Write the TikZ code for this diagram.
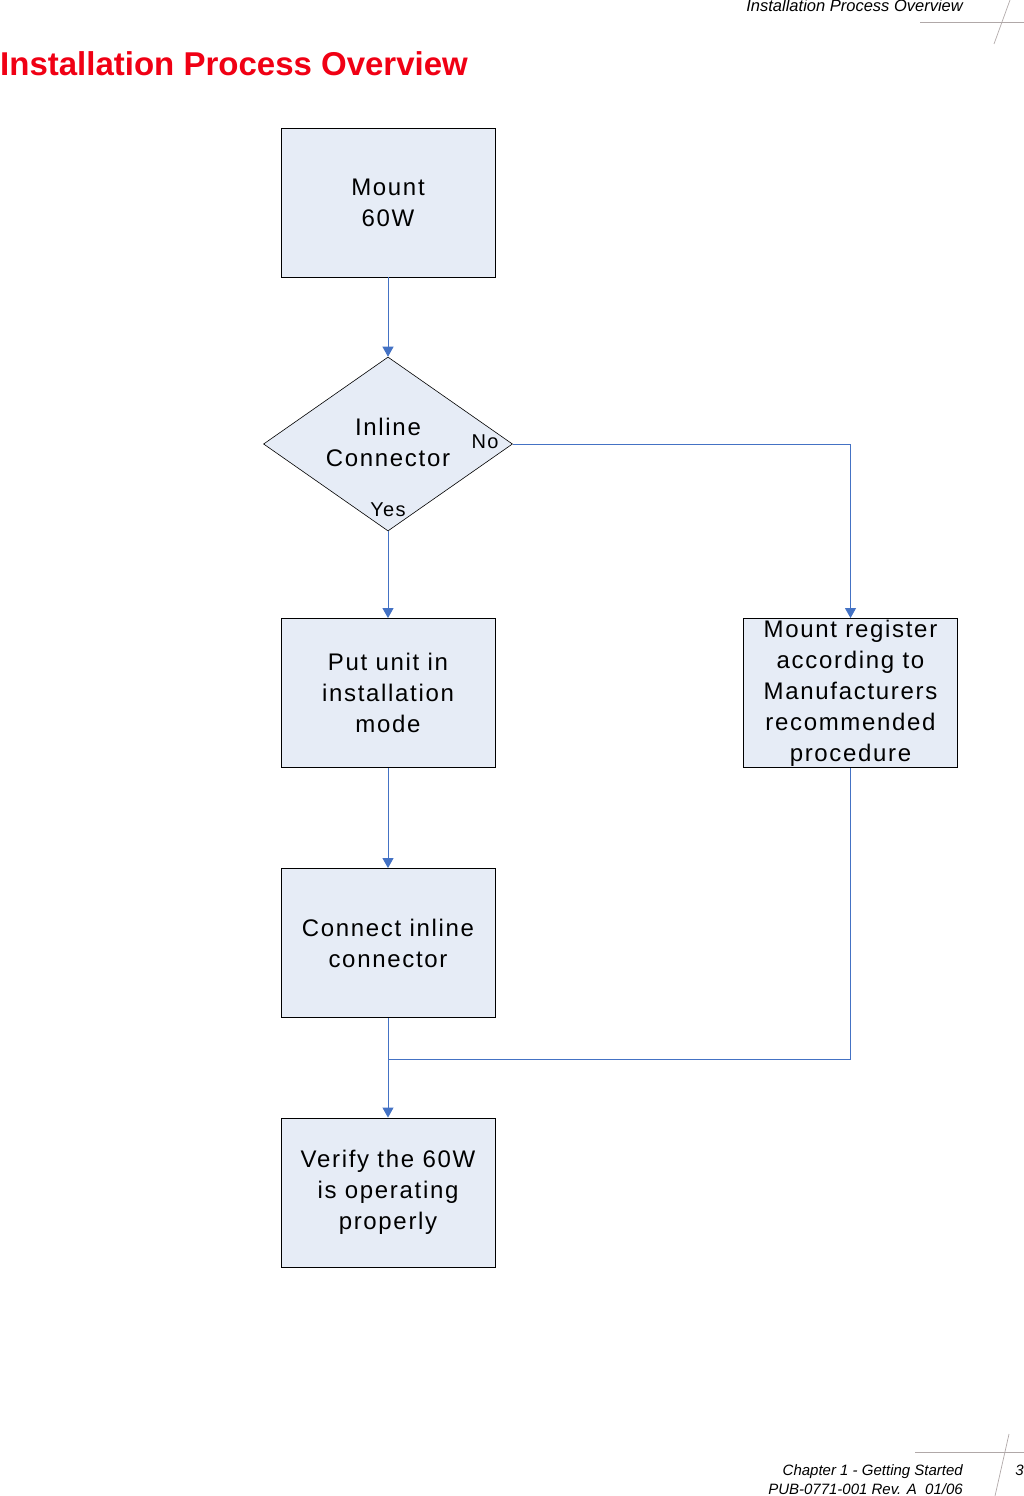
\documentclass[tikz,border=0pt]{standalone}
\usepackage{fontspec}
\setmainfont{Liberation Sans}
\usetikzlibrary{shapes.geometric,arrows.meta}
\definecolor{boxfill}{RGB}{230,236,246}
\definecolor{linkblue}{RGB}{68,114,196}
\definecolor{titlered}{RGB}{240,0,20}
\definecolor{rulegray}{RGB}{176,168,168}
\newfontfamily\boxfont[LetterSpace=7]{Liberation Sans}
\tikzset{
  stepbox/.style={draw=black,line width=0.9pt,fill=boxfill,minimum width=214pt,minimum height=149pt,inner sep=0pt,align=center,font=\boxfont\fontsize{24}{31}\selectfont},
  decision/.style={diamond,draw=black,line width=0.6pt,fill=boxfill,minimum width=249pt,minimum height=174pt,inner sep=0pt},
  conn/.style={draw=linkblue,line width=0.9pt,-{Triangle[width=11pt,length=10pt]}},
  plainlink/.style={draw=linkblue,line width=0.9pt},
  branch/.style={font=\boxfont\fontsize{20}{22}\selectfont,inner sep=0pt},
  pagerule/.style={draw=rulegray,line width=0.7pt},
  hdr/.style={font=\fontsize{16.5}{20}\selectfont\itshape,inner sep=0pt},
  ftr/.style={font=\fontsize{15}{18}\selectfont\itshape,inner sep=0pt}
}
\begin{document}
\begin{tikzpicture}[x=1pt,y=-1pt]
\useasboundingbox (0,0) rectangle (1024,1496);
% page header
\node[hdr,anchor=base east] (hdrtext) at (963,12) {Installation Process Overview};
\draw[pagerule] (920,22) -- (1024,22);
\draw[pagerule] (1010,0) -- (994,44);
% title
\node[anchor=base west,inner sep=0pt,text=titlered,font=\fontsize{33}{38}\selectfont\bfseries] (title) at (0,75) {Installation Process Overview};
% nodes
\node[stepbox] (b1) at (388,202.5) {Mount\\60W};
\node[decision] (d) at (388,444) {};
\node[align=center,inner sep=0pt,font=\boxfont\fontsize{24}{31}\selectfont] (dtext) at (388,442) {Inline\\Connector};
\node[stepbox] (b2) at (388,693) {Put unit in\\installation\\mode};
\node[stepbox] (b3) at (850.5,693) {Mount register\\according to\\Manufacturers\\recommended\\procedure};
\node[stepbox] (b4) at (388,943) {Connect inline\\connector};
\node[stepbox] (b5) at (388,1192.5) {Verify the 60W\\is operating\\properly};
\node[branch] (no) at (485,442) {No};
\node[branch] (yes) at (388,510) {Yes};
\coordinate (join) at (388,1059);
% connectors
\draw[conn] (b1.south) -- (d.north);
\draw[conn] (d.south) -- (b2.north);
\draw[conn] (d.east) -| (b3.north);
\draw[conn] (b2.south) -- (b4.north);
\draw[conn] (b4.south) -- (b5.north);
\draw[plainlink] (b3.south) |- (join);
% page footer
\draw[pagerule] (915,1452) -- (1024,1452);
\draw[pagerule] (1009,1434) -- (995,1496);
\node[ftr,anchor=base east] (ft1) at (963,1475) {Chapter 1 - Getting Started};
\node[ftr,anchor=base east] (ft2) at (963,1494) {PUB-0771-001 Rev. A\ \ 01/06};
\node[ftr,anchor=base east] (pg) at (1024,1475) {3};
\end{tikzpicture}
\end{document}
